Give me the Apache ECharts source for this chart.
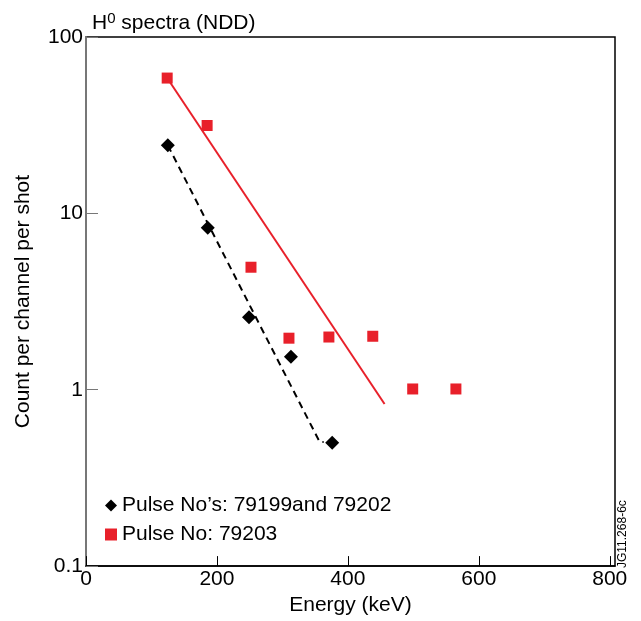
<!DOCTYPE html>
<html>
<head>
<meta charset="utf-8">
<script src="https://cdn.jsdelivr.net/npm/echarts@6/dist/echarts.min.js"></script>
<style>
html,body{margin:0;padding:0;background:#fff;}
#chart{width:641px;height:621px;}
</style>
</head>
<body>
<div id="chart"></div>
<script>
// Data
var pulse79199Energy = [125, 186, 249, 313, 376];
var pulse79199Count  = [24.3, 8.3, 2.58, 1.54, 0.50];
var pulse79203Energy = [124, 185, 252, 310, 371, 438, 499, 565];
var pulse79203Count  = [58.5, 31.5, 4.95, 1.96, 1.99, 2.01, 1.01, 1.01];
// fitted lines (endpoints)
var fitBlackEnergy = [125, 357, 363];
var fitBlackCount  = [24.3, 0.505, 0.505];
var fitRedEnergy   = [124, 456];
var fitRedCount    = [58.5, 0.83];
var xTicks = [0, 200, 400, 600, 800];
var yTicks = [0.1, 1, 10, 100];

var FONT = 'Liberation Sans';
function pairs(xs, ys){ return xs.map(function(x,i){ return [x, ys[i]]; }); }

var chart = echarts.init(document.getElementById('chart'), null, {renderer:'canvas'});
chart.setOption({
  animation: false,
  backgroundColor: '#fff',
  title: {
    text: '{a|H}{s|0}{a| spectra (NDD)}',
    left: 87, top: 6,
    textStyle: {
      fontWeight: 'normal',
      rich: {
        a: {fontFamily: FONT, fontSize: 21, fontWeight: 'normal', color: '#000'},
        s: {fontFamily: FONT, fontSize: 15, fontWeight: 'normal', color: '#000', verticalAlign: 'top', padding:[0,0,10,0]}
      }
    }
  },
  grid: {left: 86, right: 26, top: 37, bottom: 54, show: true, borderColor: '#000', borderWidth: 1.5, backgroundColor: 'transparent'},
  legend: {
    orient: 'vertical', left: 100, top: 490,
    itemWidth: 12, itemHeight: 12, itemGap: 8,
    data: [
      {name: 'Pulse No\u2019s: 79199and 79202', icon: 'diamond'},
      {name: 'Pulse No: 79203', icon: 'rect'}
    ],
    textStyle: {fontFamily: FONT, fontSize: 21, color: '#000', lineHeight: 21, padding: [0,0,0,0]},
    selectedMode: false
  },
  xAxis: {
    type: 'value', min: 0, max: 808, interval: 200,
    name: 'Energy (keV)', nameLocation: 'middle', nameGap: 27,
    nameTextStyle: {fontFamily: FONT, fontSize: 21, color: '#000'},
    axisLine: {show: true, lineStyle: {color: '#000', width: 1.5}},
    axisTick: {show: true, inside: true, length: 10, lineStyle: {color: '#000'},
      customValues: xTicks},
    axisLabel: {fontFamily: FONT, fontSize: 21, color: '#000', margin: 3,
      customValues: xTicks,
      formatter: function(v){ return xTicks.indexOf(v) >= 0 ? String(v) : ''; }},
    splitLine: {show: false}
  },
  yAxis: {
    type: 'log', logBase: 10, min: 0.1, max: 100,
    name: 'Count per channel per shot', nameLocation: 'middle', nameGap: 52, nameRotate: 90,
    nameTextStyle: {fontFamily: FONT, fontSize: 21, color: '#000'},
    axisLine: {show: true, lineStyle: {color: '#777', width: 2}},
    axisTick: {show: true, inside: true, length: 12, lineStyle: {color: '#777'}},
    minorTick: {show: false},
    axisLabel: {fontFamily: FONT, fontSize: 21, color: '#000', margin: 3,
      formatter: function(v){ return String(Math.round(v*10)/10); }},
    splitLine: {show: false}
  },
  series: [
    {
      name: 'fitRed', type: 'line', data: pairs(fitRedEnergy, fitRedCount),
      symbol: 'none', lineStyle: {color: '#e8202a', width: 2}, z: 1, silent: true
    },
    {
      name: 'fitBlack', type: 'line', data: pairs(fitBlackEnergy, fitBlackCount),
      symbol: 'none', lineStyle: {color: '#000', width: 2, type: [7,5]}, z: 1, silent: true
    },
    {
      name: 'Pulse No\u2019s: 79199and 79202', type: 'scatter',
      data: pairs(pulse79199Energy, pulse79199Count),
      symbol: 'diamond', symbolSize: 14, itemStyle: {color: '#000', opacity: 1}, z: 3
    },
    {
      name: 'Pulse No: 79203', type: 'scatter',
      data: pairs(pulse79203Energy, pulse79203Count),
      symbol: 'rect', symbolSize: 11, itemStyle: {color: '#e8202a', opacity: 1}, z: 3
    }
  ],
  graphic: [
    {type: 'text', x: 623, y: 568, rotation: Math.PI/2,
     style: {text: 'JG11.268-6c', font: '12px "Liberation Sans"', fill: '#000', textAlign: 'left', textVerticalAlign: 'middle'}}
  ]
});
</script>
</body>
</html>
